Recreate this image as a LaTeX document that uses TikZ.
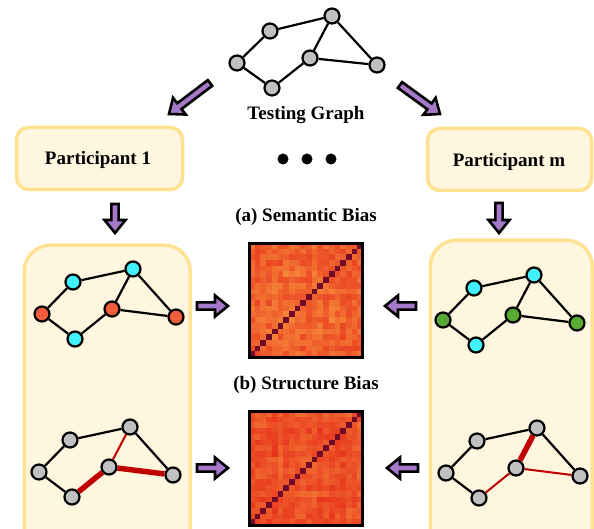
\documentclass[tikz,border=0pt]{standalone}
\usepackage{fontspec}
\setmainfont{Liberation Serif}
\usetikzlibrary{calc}
\definecolor{boxfill}{RGB}{255,246,224}
\definecolor{boxdraw}{RGB}{255,226,145}
\definecolor{arrfill}{RGB}{165,120,200}
\definecolor{ncyan}{RGB}{64,240,250}
\definecolor{nred}{RGB}{242,92,58}
\definecolor{ngreen}{RGB}{88,170,50}
\definecolor{ngray}{RGB}{192,192,192}
\definecolor{ered}{RGB}{192,0,0}
\definecolor{heatlo}{RGB}{250,160,64}
\definecolor{heathi}{RGB}{230,46,28}
\definecolor{heatdiag}{RGB}{112,10,40}
\tikzset{
 gn/.style={circle, draw=black, line width=2.2pt, minimum size=15pt, inner sep=0pt, fill=ngray},
 cy/.style={gn, fill=ncyan}, rd/.style={gn, fill=nred}, gr/.style={gn, fill=ngreen},
 ed/.style={line width=2.2pt, draw=black},
 thinred/.style={line width=2pt, draw=ered},
 thickred/.style={line width=5.5pt, draw=ered},
 pbox/.style={draw=boxdraw, fill=boxfill, line width=3.5pt, rounded corners=12pt, inner sep=0pt},
 bigbox/.style={draw=boxdraw, fill=boxfill, line width=3.5pt, rounded corners=26pt, inner sep=0pt},
 lbl/.style={font=\bfseries\fontsize{19}{22}\selectfont, inner sep=0pt},
 fatarr/.style={draw=black, fill=arrfill, line width=2.6pt, line join=miter},
 dot/.style={circle, fill=black, inner sep=0pt, minimum size=11pt},
 hframe/.style={draw=black, line width=3pt, minimum size=113.5pt, inner sep=0pt},
}
\newcommand\fatarrow[2]{%
 \path let \p1=(#1), \p2=(#2), \n1={atan2(\y2-\y1,\x2-\x1)}, \n2={veclen(\x2-\x1,\y2-\y1)} in
  \pgfextra{\xdef\faA{\n1}\xdef\faL{\n2}\xdef\faX{\x1}\xdef\faY{\y1}};
 \draw[fatarr, shift={(\faX,\faY)}, rotate=\faA] (0pt,-3.6pt) -- (\faL-13pt,-3.6pt) -- (\faL-13pt,-10.5pt) -- (\faL,0pt) -- (\faL-13pt,10.5pt) -- (\faL-13pt,3.6pt) -- (0pt,3.6pt) -- cycle;
}
\newcommand\gnodes[9]{%
 \begin{scope}[shift={(#2,#3)}]
  \node[#4] (#1a) at (31,-32) {};
  \node[#5] (#1b) at (91,-45) {};
  \node[#6] (#1c) at (0,0) {};
  \node[#7] (#1d) at (70,-5) {};
  \node[#8] (#1e) at (33,25) {};
  \node[#9] (#1f) at (134,3) {};
 \end{scope}}
\newcommand\gedges[8]{%
 \draw[#2] (#1a) -- (#1b);
 \draw[#3] (#1a) -- (#1c);
 \draw[#4] (#1c) -- (#1e);
 \draw[#5] (#1e) -- (#1d);
 \draw[#6] (#1d) -- (#1b);
 \draw[#7] (#1b) -- (#1f);
 \draw[#8] (#1d) -- (#1f);}
\newcommand\heatmap[5]{%
 \pgfmathsetseed{#3}%
 \foreach \a in {0,...,19}{\pgfmathsetmacro\v{rnd}\expandafter\xdef\csname hr\a\endcsname{\v}}%
 \foreach \a in {0,...,19}{\foreach \b in {\a,...,19}{\pgfmathsetmacro\v{rnd}\expandafter\xdef\csname hv\a-\b\endcsname{\v}}}%
 \foreach \i in {0,...,19}{
  \foreach \j in {0,...,19}{
   \pgfmathtruncatemacro\ra{min(\i,19-\j)}
   \pgfmathtruncatemacro\rb{max(\i,19-\j)}
   \ifnum\ra=\rb
     \fill[heatdiag] (#1+\i*5.7,#2+\j*5.7) rectangle ++(5.9,5.9);
   \else
     \edef\hvv{\csname hv\ra-\rb\endcsname}%
     \edef\hra{\csname hr\ra\endcsname}%
     \edef\hrb{\csname hr\rb\endcsname}%
     \pgfmathtruncatemacro\pp{#4+#5*(0.5*\hvv+0.25*\hra+0.25*\hrb)}
     \fill[heathi!\pp!heatlo] (#1+\i*5.7,#2+\j*5.7) rectangle ++(5.9,5.9);
   \fi
  }}}
\begin{document}
\begin{tikzpicture}[x=1pt,y=-1pt]
\useasboundingbox (0,0) rectangle (594,529);
\clip (0,0) rectangle (594,529);
% top graph
\node[gn] (Ta) at (270,31) {};
\node[gn] (Tb) at (332,16) {};
\node[gn] (Tc) at (237,63) {};
\node[gn] (Td) at (310,58) {};
\node[gn] (Te) at (272,88) {};
\node[gn] (Tf) at (377,65) {};
\gedges{T}{ed}{ed}{ed}{ed}{ed}{ed}{ed}
\node[lbl] (tg) at (306,115) {Testing Graph};
% participant boxes
\node[pbox, minimum width=166pt, minimum height=62pt] (p1) at (99.5,158.5) {};
\node[lbl] (p1t) at (98,160) {Participant 1};
\node[pbox, minimum width=164pt, minimum height=62pt] (pm) at (509.5,159.5) {};
\node[lbl] (pmt) at (509,162) {Participant m};
% dots
\node[dot] (d1) at (283,159) {};
\node[dot] (d2) at (307,159) {};
\node[dot] (d3) at (331,159) {};
% big boxes
\node[bigbox, minimum width=166pt, minimum height=330pt, anchor=north west] (L) at (22.5,243.5) {};
\node[bigbox, minimum width=162pt, minimum height=330pt, anchor=north west] (R) at (428.5,238.5) {};
% small graphs
\gnodes{LT}{42}{314}{cy}{cy}{rd}{rd}{cy}{rd}
\gedges{LT}{ed}{ed}{ed}{ed}{ed}{ed}{ed}
\gnodes{RT}{443}{320}{cy}{cy}{gr}{gr}{cy}{gr}
\gedges{RT}{ed}{ed}{ed}{ed}{ed}{ed}{ed}
\gnodes{LB}{39}{472}{gn}{gn}{gn}{gn}{gn}{gn}
\gedges{LB}{ed}{ed}{ed}{thickred}{thinred}{ed}{thickred}
\gnodes{RB}{446}{473}{gn}{gn}{gn}{gn}{gn}{gn}
\gedges{RB}{ed}{ed}{ed}{thinred}{thickred}{ed}{thinred}
% heatmaps
\heatmap{249}{243}{11}{15}{80}
\node[hframe] (h1) at (306,300.5) {};
\heatmap{249}{411}{53}{40}{60}
\node[hframe] (h2) at (306,468.5) {};
\node[lbl] (la) at (306,217) {(a) Semantic Bias};
\node[lbl] (lb) at (306,385) {(b) Structure Bias};
% arrows
\coordinate (a1s) at (210,83); \coordinate (a1e) at (169,114);
\coordinate (a2s) at (400,85); \coordinate (a2e) at (440,114);
\coordinate (a3s) at (115,204); \coordinate (a3e) at (115,233);
\coordinate (a4s) at (499,203); \coordinate (a4e) at (499,233);
\coordinate (a5s) at (197,306); \coordinate (a5e) at (228,306);
\coordinate (a6s) at (197,468); \coordinate (a6e) at (228,468);
\coordinate (a7s) at (416,306); \coordinate (a7e) at (385,306);
\coordinate (a8s) at (418,468); \coordinate (a8e) at (387,468);
\fatarrow{a1s}{a1e}
\fatarrow{a2s}{a2e}
\fatarrow{a3s}{a3e}
\fatarrow{a4s}{a4e}
\fatarrow{a5s}{a5e}
\fatarrow{a6s}{a6e}
\fatarrow{a7s}{a7e}
\fatarrow{a8s}{a8e}
\end{tikzpicture}
\end{document}
